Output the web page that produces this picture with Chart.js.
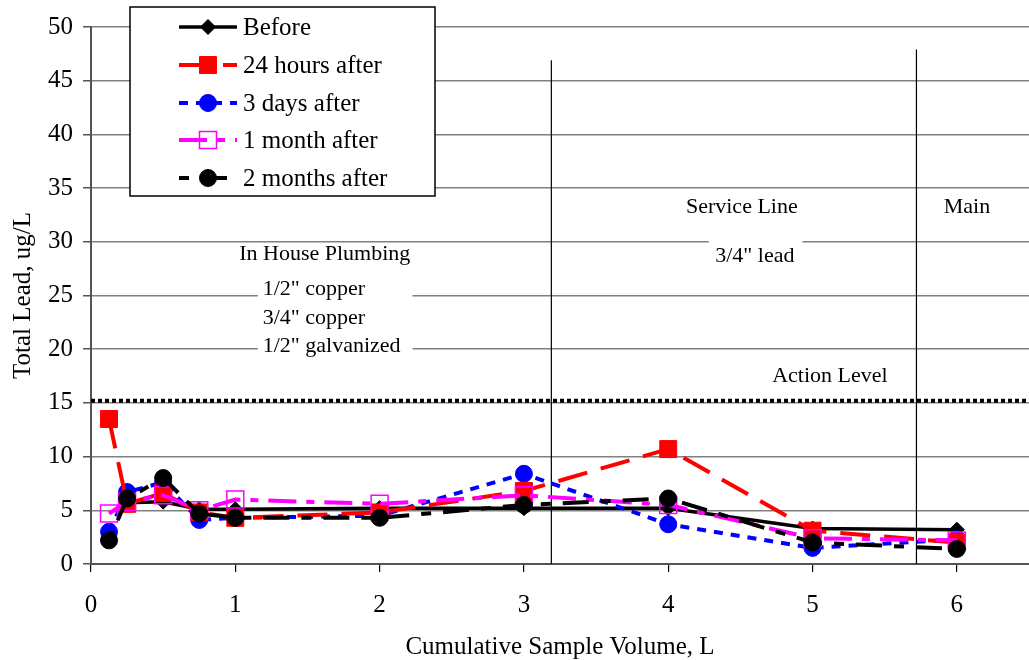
<!DOCTYPE html>
<html>
<head>
<meta charset="utf-8">
<script src="https://cdn.jsdelivr.net/npm/chart.js@4/dist/chart.umd.min.js"></script>
<style>
  html, body { margin: 0; padding: 0; background: #fff; overflow: hidden; }
  canvas { display: block; }
</style>
</head>
<body>
<canvas id="chart" width="1029" height="660"></canvas>
<script>
// sample volumes (L)
const volumes = [0.125, 0.25, 0.5, 0.75, 1, 2, 3, 4, 5, 6];

const before      = [null, 5.7, 5.8, 5.1, 5.1, 5.2, 5.2, 5.2, 3.3, 3.2];
const hours24     = [13.5, 5.6, 6.6, 4.8, 4.3, 4.8, 6.8, 10.7, 3.1, 2.0];
const days3       = [3.0, 6.7, 7.6, 4.1, 4.3, 4.5, 8.4, 3.7, 1.5, 2.3];
const month1      = [4.7, 5.8, 6.4, 5.0, 6.0, 5.6, 6.4, 5.5, 2.4, 2.2];
const months2     = [2.2, 6.1, 8.0, 4.7, 4.3, 4.3, 5.5, 6.1, 2.0, 1.4];

const seriesNames = ['Before', '24 hours after', '3 days after', '1 month after', '2 months after'];
const xTicks = [0, 1, 2, 3, 4, 5, 6];
const actionLevel = 15.2;

const FONT = 'Liberation Serif, Times New Roman, serif';

function pts(vals) {
    return volumes.map((v, i) => ({ x: v, y: vals[i] })).filter(p => p.y !== null);
}

const datasets = [
    {
        label: seriesNames[0], data: pts(before), order: 5,
        borderColor: '#000', backgroundColor: '#000', borderWidth: 3.5,
        pointStyle: 'rectRot', pointRadius: 7.5, pointBorderWidth: 1,
        borderDash: []
    },
    {
        label: seriesNames[1], data: pts(hours24), order: 3,
        borderColor: '#ff0000', backgroundColor: '#ff0000', borderWidth: 4,
        pointStyle: 'rect', pointRadius: 12, pointBorderWidth: 1,
        borderDash: [30, 14]
    },
    {
        label: seriesNames[2], data: pts(days3), order: 4,
        borderColor: '#0000ff', backgroundColor: '#0000ff', borderWidth: 4,
        pointStyle: 'circle', pointRadius: 8.5, pointBorderWidth: 1,
        borderDash: [9, 8]
    },
    {
        label: seriesNames[3], data: pts(month1), order: 2,
        borderColor: '#ff00ff', backgroundColor: 'rgba(0,0,0,0)', borderWidth: 4,
        pointStyle: 'rect', pointRadius: 12, pointBorderWidth: 1.5,
        borderDash: [28, 10, 8, 10]
    },
    {
        label: seriesNames[4], data: pts(months2), order: 1,
        borderColor: '#000', backgroundColor: '#000', borderWidth: 4,
        pointStyle: 'circle', pointRadius: 8.5, pointBorderWidth: 1,
        borderDash: [10, 12, 26, 12]
    }
];

// vertical lines, action level line and text notes
const notesPlugin = {
    id: 'notes',
    beforeDatasetsDraw(chart) {
        const ctx = chart.ctx;
        const xs = chart.scales.x, ys = chart.scales.y;
        const area = chart.chartArea;
        ctx.save();

        // white patches behind the text
        ctx.fillStyle = '#fff';
        ctx.fillRect(xs.getPixelForValue(1.156), ys.getPixelForValue(26.8), xs.getPixelForValue(2.228) - xs.getPixelForValue(1.156), ys.getPixelForValue(19.0) - ys.getPixelForValue(26.8));
        ctx.fillRect(xs.getPixelForValue(4.28), ys.getPixelForValue(30.5), xs.getPixelForValue(4.93) - xs.getPixelForValue(4.28), ys.getPixelForValue(27.2) - ys.getPixelForValue(30.5));

        // region separators
        ctx.strokeStyle = '#000';
        ctx.lineWidth = 1.2;
        ctx.beginPath();
        ctx.moveTo(xs.getPixelForValue(3.19), ys.getPixelForValue(46.9));
        ctx.lineTo(xs.getPixelForValue(3.19), area.bottom);
        ctx.moveTo(xs.getPixelForValue(5.72), ys.getPixelForValue(47.9));
        ctx.lineTo(xs.getPixelForValue(5.72), area.bottom);
        ctx.stroke();

        // action level
        ctx.lineWidth = 4;
        ctx.setLineDash([4, 3]);
        ctx.beginPath();
        const ay = ys.getPixelForValue(actionLevel);
        ctx.moveTo(area.left, ay);
        ctx.lineTo(area.right, ay);
        ctx.stroke();
        ctx.setLineDash([]);

        ctx.fillStyle = '#000';
        ctx.font = '22px ' + FONT;
        ctx.textBaseline = 'middle';
        ctx.textAlign = 'center';
        ctx.fillText('In House Plumbing', xs.getPixelForValue(1.62), ys.getPixelForValue(28.86));
        ctx.fillText('Service Line', xs.getPixelForValue(4.51), ys.getPixelForValue(33.24));
        ctx.fillText('3/4" lead', xs.getPixelForValue(4.60), ys.getPixelForValue(28.7));
        ctx.fillText('Main', xs.getPixelForValue(6.07), ys.getPixelForValue(33.24));
        ctx.fillText('Action Level', xs.getPixelForValue(5.12), ys.getPixelForValue(17.5));
        ctx.textAlign = 'left';
        ctx.fillText('1/2" copper', xs.getPixelForValue(1.19), ys.getPixelForValue(25.6));
        ctx.fillText('3/4" copper', xs.getPixelForValue(1.19), ys.getPixelForValue(22.9));
        ctx.fillText('1/2" galvanized', xs.getPixelForValue(1.19), ys.getPixelForValue(20.3));
        ctx.restore();
    }
};

// legend box in the upper left, drawn by hand so it shows line + marker
const legendPlugin = {
    id: 'boxLegend',
    afterDraw(chart) {
        const ctx = chart.ctx;
        ctx.save();
        ctx.fillStyle = '#fff';
        ctx.fillRect(130, 7, 305, 189);
        ctx.strokeStyle = '#000';
        ctx.lineWidth = 1.5;
        ctx.strokeRect(130, 7, 305, 189);

        const rows = [27, 65, 103, 140, 178];
        chart.data.datasets.forEach((ds, i) => {
            const y = rows[i];
            ctx.strokeStyle = ds.borderColor;
            ctx.lineWidth = ds.borderWidth;
            ctx.setLineDash(ds.borderDash);
            ctx.beginPath();
            ctx.moveTo(179, y);
            ctx.lineTo(237, y);
            ctx.stroke();
            ctx.setLineDash([]);
            ctx.fillStyle = ds.backgroundColor;
            ctx.strokeStyle = ds.borderColor;
            ctx.lineWidth = ds.pointBorderWidth;
            Chart.helpers.drawPoint(ctx, {
                pointStyle: ds.pointStyle, radius: ds.pointRadius,
                borderWidth: ds.pointBorderWidth, rotation: 0
            }, 208, y);
            ctx.fillStyle = '#000';
            ctx.font = '25px ' + FONT;
            ctx.textBaseline = 'middle';
            ctx.textAlign = 'left';
            ctx.fillText(ds.label, 243, y + 1);
        });
        ctx.restore();
    }
};

const ctx = document.getElementById('chart').getContext('2d');
const chart = new Chart(ctx, {
    type: 'line',
    data: { datasets: datasets },
    plugins: [notesPlugin, legendPlugin],
    options: {
        responsive: false,
        animation: false,
        layout: { autoPadding: false, padding: { top: 27, right: 0, left: 0, bottom: 0 } },
        plugins: {
            legend: { display: false },
            tooltip: { enabled: false }
        },
        scales: {
            x: {
                type: 'linear',
                min: 0,
                max: 6.5,
                afterBuildTicks: s => { s.ticks = xTicks.map(v => ({ value: v })); },
                afterFit: s => { s.height = 96; s.paddingRight = 0; s.paddingLeft = 0; },
                grid: { drawOnChartArea: false, drawTicks: true, tickLength: 8, tickColor: '#000', lineWidth: 1.2 },
                border: { display: true, color: '#555', width: 2 },
                ticks: { color: '#000', font: { family: FONT, size: 25 }, padding: 18, maxRotation: 0 },
                title: { display: true, text: 'Cumulative Sample Volume, L', color: '#000', font: { family: FONT, size: 25 }, padding: { top: 12, bottom: -2 } }
            },
            y: {
                min: 0,
                max: 50,
                afterFit: s => { s.width = 91; },
                grid: { color: '#808080', lineWidth: 1.5, tickLength: 8, tickColor: '#555' },
                border: { display: true, color: '#555', width: 2 },
                ticks: { stepSize: 5, color: '#000', font: { family: FONT, size: 25 }, padding: 10 },
                title: { display: true, text: 'Total Lead, ug/L', color: '#000', font: { family: FONT, size: 25 }, padding: { top: 8, bottom: 0 } }
            }
        }
    }
});
</script>
</body>
</html>
